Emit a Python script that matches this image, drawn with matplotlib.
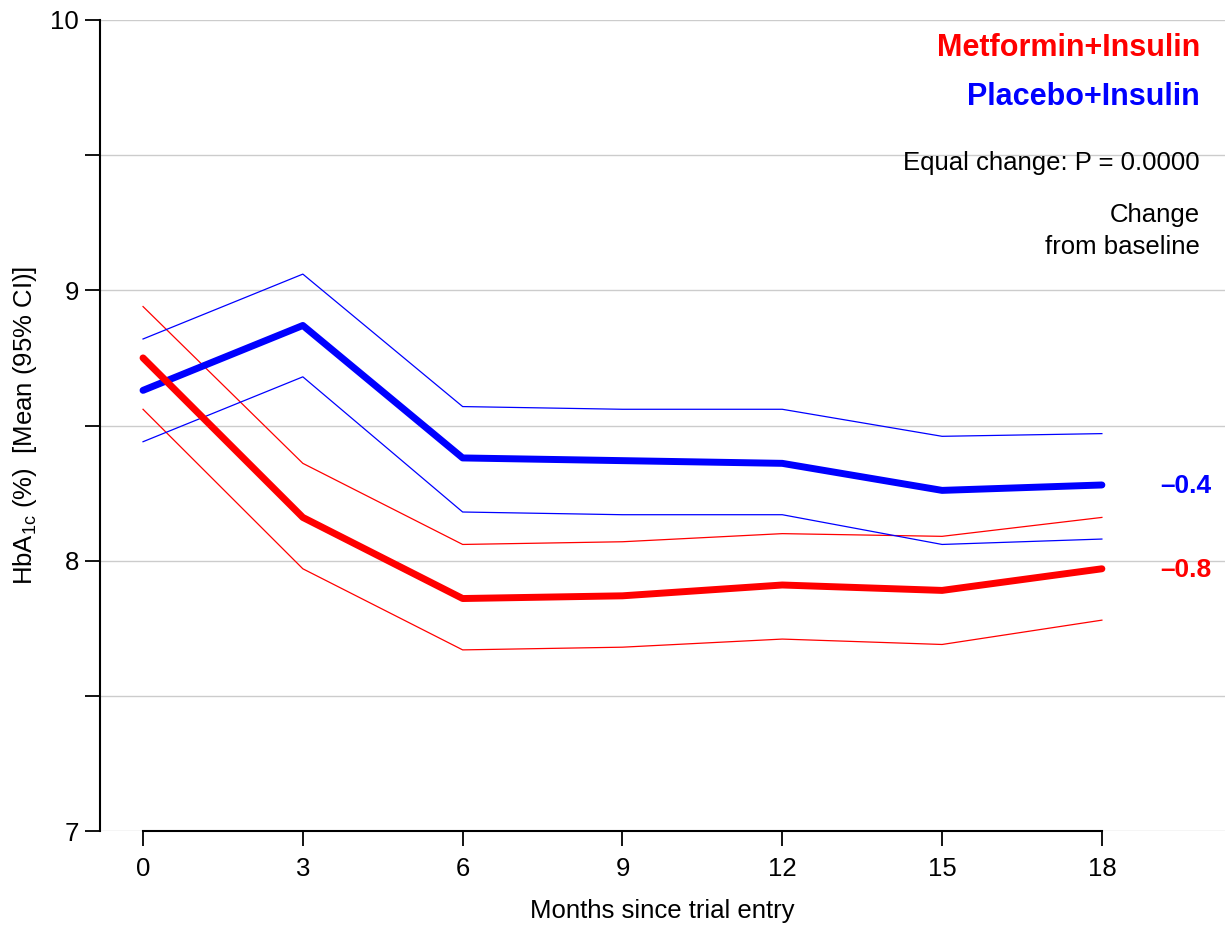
import matplotlib
matplotlib.use("Agg")
from matplotlib import pyplot as plt

plt.rcParams['font.family'] = ['Liberation Sans', 'DejaVu Sans']
plt.rcParams['mathtext.fontset'] = 'custom'
plt.rcParams['mathtext.rm'] = 'Liberation Sans'

months = [0, 3, 6, 9, 12, 15, 18]

# Metformin+Insulin
met_mean = [8.75, 8.16, 7.86, 7.87, 7.91, 7.89, 7.97]
met_upper = [8.94, 8.36, 8.06, 8.07, 8.10, 8.09, 8.16]
met_lower = [8.56, 7.97, 7.67, 7.68, 7.71, 7.69, 7.78]

# Placebo+Insulin
pla_mean = [8.63, 8.87, 8.38, 8.37, 8.36, 8.26, 8.28]
pla_upper = [8.82, 9.06, 8.57, 8.56, 8.56, 8.46, 8.47]
pla_lower = [8.44, 8.68, 8.18, 8.17, 8.17, 8.06, 8.08]

yticks = [7, 7.5, 8, 8.5, 9, 9.5, 10]
ytick_labels = ['7', '', '8', '', '9', '', '10']
change_labels = ['\u20130.8', '\u20130.4']

fig = plt.figure(figsize=(12.29, 9.25), dpi=100)
ax = fig.add_axes([0.0814, 0.1016, 0.9153, 0.8768])

# grid lines
for y in yticks:
    ax.axhline(y, color='#cccccc', linewidth=1.0, zorder=0)

# confidence limits as thin lines, means as thick lines
ax.plot(months, met_upper, color='red', linewidth=0.9)
ax.plot(months, met_lower, color='red', linewidth=0.9)
ax.plot(months, pla_upper, color='blue', linewidth=0.9)
ax.plot(months, pla_lower, color='blue', linewidth=0.9)
ax.plot(months, pla_mean, color='blue', linewidth=5, solid_capstyle='round')
ax.plot(months, met_mean, color='red', linewidth=5, solid_capstyle='round')

ax.set_xlim(-0.807, 20.31)
ax.set_ylim(7, 10)

ax.spines['top'].set_visible(False)
ax.spines['right'].set_visible(False)
ax.spines['left'].set_bounds(7, 10)
ax.spines['bottom'].set_bounds(0, 18)
ax.spines['left'].set_linewidth(1.5)
ax.spines['bottom'].set_linewidth(1.5)

ax.set_xticks(months)
ax.set_yticks(yticks)
ax.set_yticklabels(ytick_labels)
ax.tick_params(axis='both', direction='out', length=11, width=1.3, labelsize=18.5)
ax.tick_params(axis='x', pad=8)
ax.tick_params(axis='y', pad=4)

ax.set_xlabel('Months since trial entry', fontsize=18.5, labelpad=13)
ax.set_ylabel('HbA$_{\\mathregular{1c}}$ (%)  [Mean (95% CI)]', fontsize=18.5, labelpad=8)

# legend-like labels at top right
tx = 19.84
ax.text(tx, 9.895, 'Metformin+Insulin', color='red', fontsize=22, fontweight='bold',
        ha='right', va='center')
ax.text(tx, 9.715, 'Placebo+Insulin', color='blue', fontsize=22, fontweight='bold',
        ha='right', va='center')
ax.text(tx, 9.47, 'Equal change: P = 0.0000', fontsize=18.5, ha='right', va='center')
ax.text(tx, 9.28, 'Change', fontsize=18.5, ha='right', va='center')
ax.text(tx, 9.16, 'from baseline', fontsize=18.5, ha='right', va='center')

# change from baseline at end of lines
ax.text(20.05, met_mean[-1] - 0.005, change_labels[0], color='red', fontsize=19,
        fontweight='bold', ha='right', va='center')
ax.text(20.05, pla_mean[-1] - 0.005, change_labels[1], color='blue', fontsize=19,
        fontweight='bold', ha='right', va='center')

fig.savefig('out.png', dpi=100)
